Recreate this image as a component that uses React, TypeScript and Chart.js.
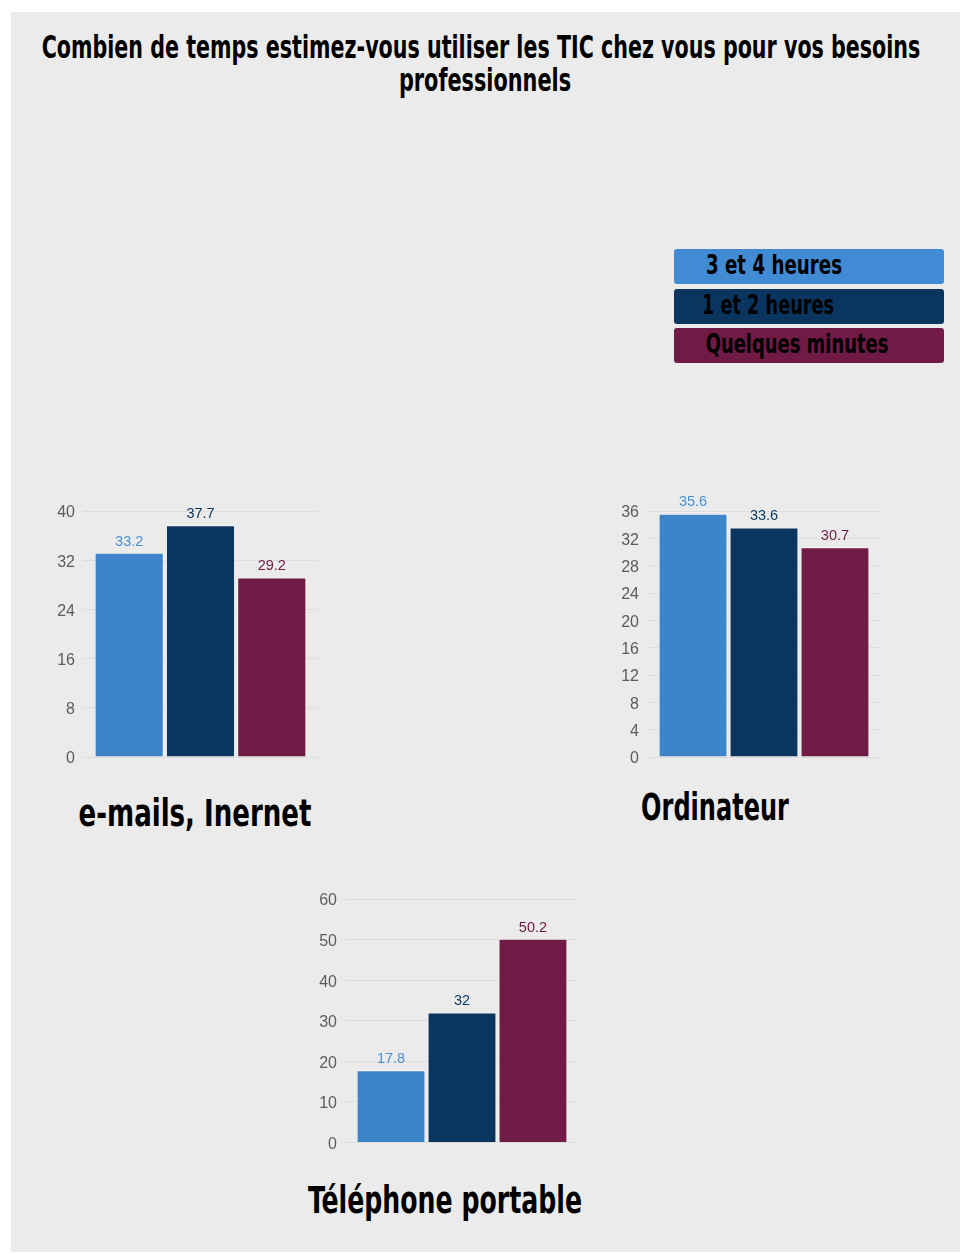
import React, { useEffect, useLayoutEffect, useRef } from "react";
import { Chart, registerables } from "chart.js";

Chart.register(...registerables);

// ---------- data ----------
const seriesNames = ["3 et 4 heures", "1 et 2 heures", "Quelques minutes"];
const barColors = ["#3e84c9", "#0a355e", "#701a45"];
const labelColors = ["#4a8fd2", "#0a355e", "#701a45"];
const legendColors = ["#418ad4", "#0a355e", "#701a45"];

const titleLine1 = "Combien de temps estimez-vous utiliser les TIC chez vous pour vos besoins";
const titleLine2 = "professionnels";

const emailTitle = "e-mails, Inernet";
const emailValues = [33.2, 37.7, 29.2];
const emailAxis = [0, 40, 8]; // min, max, step

const ordiTitle = "Ordinateur";
const ordiValues = [35.6, 33.6, 30.7];
const ordiAxis = [0, 36, 4];

const phoneTitle = "Téléphone portable";
const phoneValues = [17.8, 32, 50.2];
const phoneAxis = [0, 60, 10];

const HEAD_FONT = "'DejaVu Sans Condensed', 'Liberation Sans Narrow', 'DejaVu Sans', sans-serif";
const TICK_FONT = "'Liberation Sans', Arial, sans-serif";

// ---------- value labels plugin ----------
const valueLabels = {
  id: "valueLabels",
  afterDatasetsDraw(chart: any) {
    const ctx = chart.ctx;
    ctx.save();
    ctx.font = `14.5px ${TICK_FONT}`;
    ctx.textAlign = "center";
    ctx.textBaseline = "bottom";
    chart.data.datasets.forEach((ds: any, i: number) => {
      const meta = chart.getDatasetMeta(i);
      meta.data.forEach((bar: any, j: number) => {
        ctx.fillStyle = labelColors[i];
        ctx.fillText(String(ds.data[j]), bar.x, bar.y - 4);
      });
    });
    ctx.restore();
  },
};

function BarPanel(props: {
  label: string;
  values: number[];
  axis: number[];
  left: number;
  top: number;
  pad: { left: number; right: number; top: number; bottom: number };
}) {
  const ref = useRef<HTMLCanvasElement>(null);
  useEffect(() => {
    const chart = new Chart(ref.current as HTMLCanvasElement, {
      type: "bar",
      data: {
        labels: [props.label],
        datasets: seriesNames.map((name, i) => ({
          label: name,
          data: [props.values[i]],
          backgroundColor: barColors[i],
          borderColor: "rgba(255,255,255,0.55)",
          borderWidth: 1,
          categoryPercentage: 0.91,
          barPercentage: 0.97,
        })),
      },
      options: {
        animation: false,
        responsive: false,
        devicePixelRatio: 1,
        layout: { padding: props.pad },
        plugins: {
          legend: { display: false },
          tooltip: { enabled: false },
          title: { display: false },
        },
        scales: {
          x: { display: false },
          y: {
            min: props.axis[0],
            max: props.axis[1],
            ticks: {
              stepSize: props.axis[2],
              color: "#5c5c5c",
              font: { family: TICK_FONT, size: 16 },
              padding: 8,
              labelOffset: 2,
            },
            grid: { color: "rgba(0,0,0,0.06)", drawTicks: false },
            border: { display: false },
            afterFit: (s: any) => {
              s.width = 45;
            },
          },
        },
      } as any,
      plugins: [valueLabels],
    });
    return () => chart.destroy();
  }, []);
  return (
    <canvas
      ref={ref}
      width={300}
      height={300}
      style={{ position: "absolute", left: props.left, top: props.top, width: 300, height: 300 }}
    />
  );
}

function FitText(props: { text: string; cx: number; cy: number; width: number; size: number; color?: string }) {
  const ref = useRef<HTMLSpanElement>(null);
  useLayoutEffect(() => {
    const el = ref.current as HTMLSpanElement;
    el.style.transform = "translate(-50%, -50%)";
    const w = el.offsetWidth;
    const k = props.width / w;
    el.style.transform = `translate(-50%, -50%) scaleX(${k})`;
  }, []);
  return (
    <span
      ref={ref}
      style={{
        position: "absolute",
        left: props.cx,
        top: props.cy,
        fontFamily: HEAD_FONT,
        fontWeight: "bold",
        fontSize: props.size,
        lineHeight: 1,
        whiteSpace: "nowrap",
        color: props.color || "#000",
      }}
    >
      {props.text}
    </span>
  );
}

const legendTops = [249, 289, 328];
const legendText = [
  { cx: 774, w: 136 },
  { cx: 768, w: 132 },
  { cx: 797, w: 183 },
];

export default function App() {
  return (
    <div style={{ position: "absolute", left: 0, top: 0, width: 960, height: 1253, background: "#fff", overflow: "hidden" }}>
      <div style={{ position: "absolute", left: 11, top: 12, width: 949, height: 1240, background: "#ebebeb" }} />
      <FitText text={titleLine1} cx={481} cy={47} width={879} size={32} />
      <FitText text={titleLine2} cx={485} cy={80} width={172} size={32} />

      {seriesNames.map((name, i) => (
        <div
          key={name}
          style={{
            position: "absolute",
            left: 674,
            top: legendTops[i],
            width: 270,
            height: 35,
            background: legendColors[i],
            borderRadius: 3,
          }}
        />
      ))}
      {seriesNames.map((name, i) => (
        <FitText key={"t" + name} text={name} cx={legendText[i].cx} cy={legendTops[i] + 15} width={legendText[i].w} size={27} />
      ))}

      <BarPanel label={emailTitle} values={emailValues} axis={emailAxis} left={30} top={475} pad={{ left: 8, right: 12, top: 36, bottom: 18 }} />
      <BarPanel label={ordiTitle} values={ordiValues} axis={ordiAxis} left={590} top={475} pad={{ left: 12, right: 9, top: 36, bottom: 18 }} />
      <BarPanel label={phoneTitle} values={phoneValues} axis={phoneAxis} left={290} top={860} pad={{ left: 10, right: 11, top: 39, bottom: 17 }} />

      <FitText text={emailTitle} cx={195} cy={813} width={233} size={37} />
      <FitText text={ordiTitle} cx={715} cy={807} width={148} size={37} />
      <FitText text={phoneTitle} cx={445} cy={1200} width={274} size={37} />
    </div>
  );
}
